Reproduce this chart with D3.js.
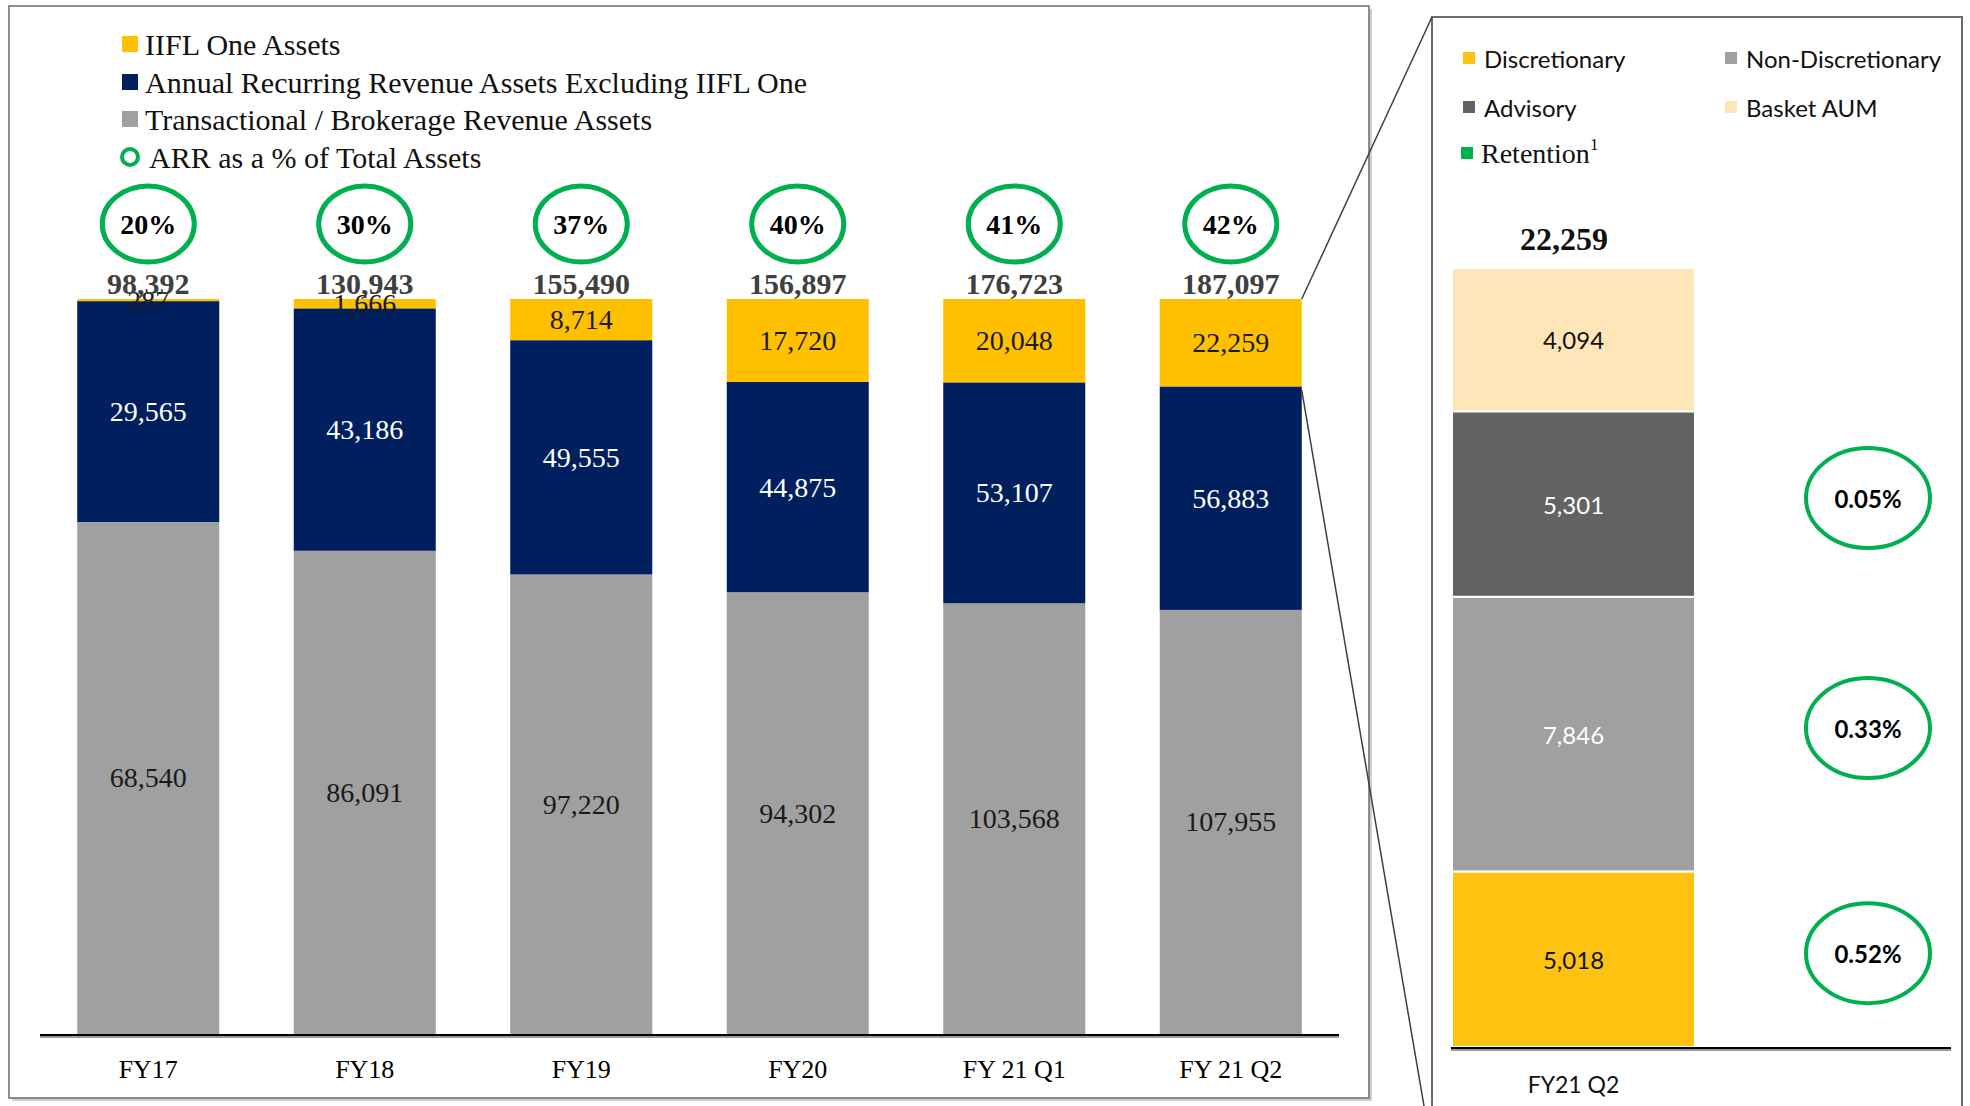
<!DOCTYPE html>
<html>
<head>
<meta charset="utf-8">
<script src="https://cdn.jsdelivr.net/npm/d3@7"></script>
<style>
  body { margin: 0; background: #fff; }
  svg { display: block; }
</style>
</head>
<body>
<svg id="chart" width="1970" height="1106"></svg>
<script>
// main chart data
const categories = ["FY17", "FY18", "FY19", "FY20", "FY 21 Q1", "FY 21 Q2"];
const transactional = [68540, 86091, 97220, 94302, 103568, 107955];
const arrExIifl = [29565, 43186, 49555, 44875, 53107, 56883];
const iiflOne = [287, 1666, 8714, 17720, 20048, 22259];
const totals = [98392, 130943, 155490, 156897, 176723, 187097];
const arrPct = ["20%", "30%", "37%", "40%", "41%", "42%"];
const seriesNames = ["IIFL One Assets", "Annual Recurring Revenue Assets Excluding IIFL One", "Transactional / Brokerage Revenue Assets"];

// detail (IIFL One breakdown) data
const detailCategory = "FY21 Q2";
const detailNames = ["Discretionary", "Non-Discretionary", "Advisory", "Basket AUM"];
const detailValues = [5018, 7846, 5301, 4094];
const detailTotal = 22259;
const retention = ["0.52%", "0.33%", "0.05%", null];

const serif = "'Liberation Serif', 'DejaVu Serif', serif";
const sans = "Lato, 'Open Sans', sans-serif";
const green = "#00B050";

const svg = d3.select("#chart");
const fmt = d3.format(",");

// ---------- main panel frame ----------
svg.append("rect").attr("x", 12).attr("y", 9).attr("width", 1360).attr("height", 1092).attr("fill", "#d0d0d0");
svg.append("rect").attr("x", 9).attr("y", 6).attr("width", 1360).attr("height", 1092)
    .attr("fill", "#fff").attr("stroke", "#6b6b6b").attr("stroke-width", 1.5);

// scales
const x = d3.scaleBand().domain(categories).range([40, 1339]).paddingInner(0.344).paddingOuter(0.172);
const y = d3.scaleLinear().domain([0, 1]).range([1034, 299]);

// 100% stacked rows
const rows = categories.map((c, i) => ({
    cat: c, trans: transactional[i], arr: arrExIifl[i], iifl: iiflOne[i]
}));
const keys = ["trans", "arr", "iifl"];
const colors = {trans: "#A0A0A0", arr: "#001F5F", iifl: "#FFC000"};
const labelColors = {trans: "#1a1a1a", arr: "#ffffff", iifl: "#1a1a1a"};
const stacked = d3.stack().keys(keys).offset(d3.stackOffsetExpand)(rows);

const layers = svg.append("g").selectAll("g").data(stacked).join("g")
    .attr("fill", d => colors[d.key]);
layers.selectAll("rect").data(d => d).join("rect")
    .attr("x", d => x(d.data.cat))
    .attr("width", x.bandwidth())
    .attr("y", d => y(d[1]))
    .attr("height", d => y(d[0]) - y(d[1]));

// segment labels
stacked.forEach(layer => {
    svg.append("g").selectAll("text").data(layer).join("text")
        .attr("x", d => x(d.data.cat) + x.bandwidth() / 2)
        .attr("y", d => (y(d[0]) + y(d[1])) / 2)
        .attr("text-anchor", "middle")
        .attr("dominant-baseline", "central")
        .attr("font-family", serif)
        .attr("font-size", 28)
        .attr("fill", labelColors[layer.key])
        .text(d => fmt(d.data[layer.key]));
});

// totals
svg.append("g").selectAll("text").data(categories).join("text")
    .attr("x", d => x(d) + x.bandwidth() / 2)
    .attr("y", 294)
    .attr("text-anchor", "middle")
    .attr("font-family", serif)
    .attr("font-weight", "bold")
    .attr("font-size", 30)
    .attr("fill", "#404040")
    .text((d, i) => fmt(totals[i]));

// ARR % circles
const pct = svg.append("g").selectAll("g").data(categories).join("g")
    .attr("transform", d => `translate(${x(d) + x.bandwidth() / 2},224)`);
pct.append("ellipse").attr("rx", 46).attr("ry", 38)
    .attr("fill", "#fff").attr("stroke", green).attr("stroke-width", 5);
pct.append("text")
    .attr("text-anchor", "middle").attr("dominant-baseline", "central")
    .attr("font-family", serif).attr("font-weight", "bold").attr("font-size", 28)
    .text((d, i) => arrPct[i]);

// baseline + category labels
svg.append("line").attr("x1", 40).attr("x2", 1339).attr("y1", 1037).attr("y2", 1037)
    .attr("stroke", "#9a9a9a").attr("stroke-width", 2);
svg.append("line").attr("x1", 40).attr("x2", 1339).attr("y1", 1035).attr("y2", 1035)
    .attr("stroke", "#000").attr("stroke-width", 2);
svg.append("g").selectAll("text").data(categories).join("text")
    .attr("x", d => x(d) + x.bandwidth() / 2)
    .attr("y", 1069)
    .attr("text-anchor", "middle").attr("dominant-baseline", "central")
    .attr("font-family", serif).attr("font-size", 26)
    .text(d => d);

// main legend
const legendColors = ["#FFC000", "#001F5F", "#A0A0A0"];
const legendY = [44, 82, 119];
seriesNames.forEach((name, i) => {
    svg.append("rect").attr("x", 122).attr("y", legendY[i] - 8).attr("width", 16).attr("height", 16)
        .attr("fill", legendColors[i]);
    svg.append("text").attr("x", 145).attr("y", legendY[i])
        .attr("dominant-baseline", "central")
        .attr("font-family", serif).attr("font-size", 30).attr("fill", "#111")
        .text(name);
});
svg.append("circle").attr("cx", 130).attr("cy", 157).attr("r", 8)
    .attr("fill", "none").attr("stroke", green).attr("stroke-width", 4);
svg.append("text").attr("x", 149).attr("y", 157)
    .attr("dominant-baseline", "central")
    .attr("font-family", serif).attr("font-size", 30).attr("fill", "#111")
    .text("ARR as a % of Total Assets");

// ---------- detail panel ----------
svg.append("rect").attr("x", 1432).attr("y", 17).attr("width", 530).attr("height", 1100)
    .attr("fill", "#fff").attr("stroke", "#6b6b6b").attr("stroke-width", 2);

const lastCat = categories[categories.length - 1];
const barRight = x(lastCat) + x.bandwidth();
const lastStack = stacked[2][categories.length - 1];
// connector lines
svg.append("line").attr("x1", barRight).attr("y1", y(lastStack[1]))
    .attr("x2", 1432).attr("y2", 17).attr("stroke", "#404040").attr("stroke-width", 1.5);
svg.append("line").attr("x1", barRight).attr("y1", y(lastStack[0]) + 4)
    .attr("x2", 1424).attr("y2", 1106).attr("stroke", "#404040").attr("stroke-width", 1.5);

const dx = d3.scaleBand().domain([detailCategory]).range([1451, 1951]).paddingInner(0).paddingOuter(0)
    .align(0);
const dBarX = 1452, dBarW = 243;
const dy = d3.scaleLinear().domain([0, detailTotal]).range([1047, 268]);
const detailColors = ["#FDC310", "#A0A0A0", "#636363", "#FFE6B8"];
const detailLabelColors = ["#111", "#fff", "#fff", "#111"];
const dStack = d3.stack().keys(detailNames)([Object.fromEntries(detailNames.map((n, i) => [n, detailValues[i]]))]);

const dSeg = svg.append("g").selectAll("g").data(dStack).join("g");
dSeg.append("rect")
    .attr("x", dBarX).attr("width", dBarW)
    .attr("y", d => dy(d[0][1]))
    .attr("height", d => dy(d[0][0]) - dy(d[0][1]))
    .attr("fill", (d, i) => detailColors[i])
    .attr("stroke", "#fff").attr("stroke-width", 2);
dSeg.append("text")
    .attr("x", dBarX + dBarW / 2)
    .attr("y", d => (dy(d[0][0]) + dy(d[0][1])) / 2)
    .attr("text-anchor", "middle").attr("dominant-baseline", "central")
    .attr("font-family", sans).attr("font-size", 24)
    .attr("fill", (d, i) => detailLabelColors[i])
    .text((d, i) => fmt(detailValues[i]));

// retention circles
const ret = dSeg.filter((d, i) => retention[i] !== null).append("g")
    .attr("transform", d => `translate(1868,${(dy(d[0][0]) + dy(d[0][1])) / 2 - 6})`);
ret.append("ellipse").attr("rx", 62).attr("ry", 50)
    .attr("fill", "#fff").attr("stroke", green).attr("stroke-width", 4);
ret.append("text")
    .attr("text-anchor", "middle").attr("dominant-baseline", "central")
    .attr("font-family", sans).attr("font-weight", "bold").attr("font-size", 24)
    .text(d => retention[detailNames.indexOf(d.key)]);

// detail total
svg.append("text").attr("x", 1564).attr("y", 250).attr("text-anchor", "middle")
    .attr("font-family", serif).attr("font-weight", "bold").attr("font-size", 32)
    .attr("fill", "#111").text(fmt(detailTotal));

// detail baseline + label
svg.append("line").attr("x1", dx.range()[0]).attr("x2", dx.range()[1]).attr("y1", 1050).attr("y2", 1050)
    .attr("stroke", "#9a9a9a").attr("stroke-width", 2);
svg.append("line").attr("x1", dx.range()[0]).attr("x2", dx.range()[1]).attr("y1", 1048).attr("y2", 1048)
    .attr("stroke", "#000").attr("stroke-width", 2);
svg.append("text").attr("x", dBarX + dBarW / 2).attr("y", 1084)
    .attr("text-anchor", "middle").attr("dominant-baseline", "central")
    .attr("font-family", sans).attr("font-size", 23).attr("fill", "#111")
    .text(detailCategory);

// detail legend
const dLegPos = [[1463, 58], [1725, 58], [1463, 107], [1725, 107]];
const dLegOrder = ["Discretionary", "Non-Discretionary", "Advisory", "Basket AUM"];
dLegOrder.forEach((name, i) => {
    const idx = detailNames.indexOf(name);
    svg.append("rect").attr("x", dLegPos[i][0]).attr("y", dLegPos[i][1] - 6)
        .attr("width", 12).attr("height", 12).attr("fill", detailColors[idx]);
    svg.append("text").attr("x", dLegPos[i][0] + 21).attr("y", dLegPos[i][1])
        .attr("dominant-baseline", "central")
        .attr("font-family", sans).attr("font-size", 24).attr("fill", "#111")
        .text(name);
});
svg.append("rect").attr("x", 1461).attr("y", 147).attr("width", 12).attr("height", 12).attr("fill", green);
const retLabel = svg.append("text").attr("x", 1481).attr("y", 153)
    .attr("dominant-baseline", "central")
    .attr("font-family", serif).attr("font-size", 28).attr("fill", "#111");
retLabel.append("tspan").text("Retention");
retLabel.append("tspan").attr("font-size", 17).attr("dy", -9).text("1");
</script>
</body>
</html>
